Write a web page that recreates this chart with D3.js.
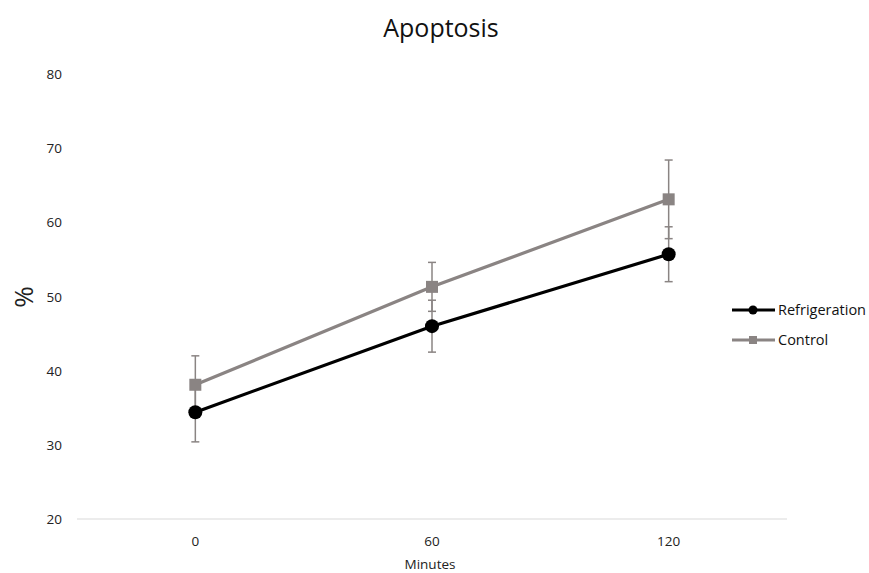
<!DOCTYPE html>
<html><head><meta charset="utf-8">
<script src="https://cdn.jsdelivr.net/npm/d3@7"></script>
<style>body{margin:0;background:#fff;font-family:"Open Sans",sans-serif;}</style>
</head><body>
<svg id="c" width="869" height="573"></svg>
<script>
const categories = ["0", "60", "120"];
const refrigeration = [34.4, 46.0, 55.7];
const refrigerationErr = [4.0, 3.5, 3.7];
const control = [38.1, 51.3, 63.1];
const controlErr = [3.9, 3.3, 5.3];
const yTicks = [20, 30, 40, 50, 60, 70, 80];

const svg = d3.select("#c");
const x = d3.scaleBand().domain(categories).range([77, 787]);
const y = d3.scaleLinear().domain([20, 80]).range([519, 74]);
const cx = d => x(d) + x.bandwidth() / 2;

svg.append("text").attr("x", 441).attr("y", 37).attr("text-anchor", "middle")
  .attr("font-size", 25).attr("fill", "#111").text("Apoptosis");

svg.selectAll(".yt").data(yTicks).enter().append("text")
  .attr("x", 62).attr("y", d => y(d) + 5).attr("text-anchor", "end")
  .attr("font-size", 13.5).attr("fill", "#222").text(d => d);

svg.append("line").attr("x1", 77).attr("x2", 787).attr("y1", y(20)).attr("y2", y(20))
  .attr("stroke", "#d9d9d9").attr("stroke-width", 1.2);

svg.selectAll(".xt").data(categories).enter().append("text")
  .attr("x", d => cx(d)).attr("y", 546).attr("text-anchor", "middle")
  .attr("font-size", 13.5).attr("fill", "#222").text(d => d);

svg.append("text").attr("x", 430).attr("y", 569).attr("text-anchor", "middle")
  .attr("font-size", 13.5).attr("fill", "#222").text("Minutes");

svg.append("text").attr("transform", "translate(33,297) rotate(-90)")
  .attr("text-anchor", "middle").attr("font-size", 26).attr("fill", "#222").text("%");

const series = [
  {name: "Control", vals: control, err: controlErr, color: "#8a8483", marker: "square"},
  {name: "Refrigeration", vals: refrigeration, err: refrigerationErr, color: "#000", marker: "circle"}
];

const errColor = "#8a8483";
series.forEach(s => {
  categories.forEach((c, i) => {
    const g = svg.append("g").attr("stroke", errColor).attr("stroke-width", 1.5);
    const hi = y(s.vals[i] + s.err[i]), lo = y(s.vals[i] - s.err[i]);
    g.append("line").attr("x1", cx(c)).attr("x2", cx(c)).attr("y1", hi).attr("y2", lo);
    g.append("line").attr("x1", cx(c) - 4).attr("x2", cx(c) + 4).attr("y1", hi).attr("y2", hi);
    g.append("line").attr("x1", cx(c) - 4).attr("x2", cx(c) + 4).attr("y1", lo).attr("y2", lo);
  });
});

const line = d3.line().x((d, i) => cx(categories[i])).y(d => y(d));
series.forEach(s => {
  svg.append("path").datum(s.vals).attr("d", line).attr("fill", "none")
    .attr("stroke", s.color).attr("stroke-width", 3.2);
  s.vals.forEach((v, i) => {
    if (s.marker === "circle") {
      svg.append("circle").attr("cx", cx(categories[i])).attr("cy", y(v)).attr("r", 7)
        .attr("fill", s.color);
    } else {
      svg.append("rect").attr("x", cx(categories[i]) - 6).attr("y", y(v) - 6)
        .attr("width", 12).attr("height", 12).attr("fill", s.color);
    }
  });
});

const legend = [series[1], series[0]];
legend.forEach((s, i) => {
  const ly = 310 + i * 30;
  svg.append("line").attr("x1", 732).attr("x2", 775).attr("y1", ly).attr("y2", ly)
    .attr("stroke", s.color).attr("stroke-width", 3.2);
  if (s.marker === "circle") svg.append("circle").attr("cx", 753).attr("cy", ly).attr("r", 4.5).attr("fill", s.color);
  else svg.append("rect").attr("x", 749).attr("y", ly - 4).attr("width", 8).attr("height", 8).attr("fill", s.color);
  svg.append("text").attr("x", 778).attr("y", ly + 5).attr("font-size", 14.5).attr("fill", "#111").text(s.name);
});
</script>
</body></html>
